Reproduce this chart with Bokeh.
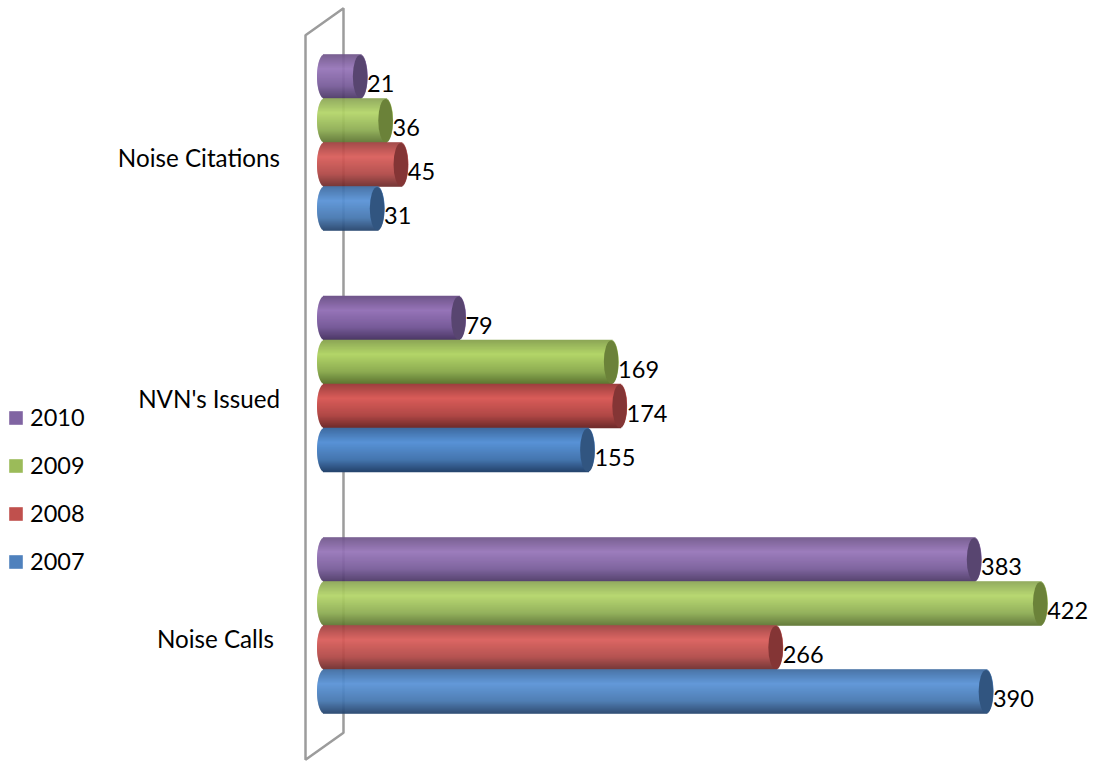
from bokeh.plotting import figure
from bokeh.models import ColumnDataSource, Legend, LegendItem, Range1d
from bokeh.core.properties import value
from bokeh.embed import file_html
from bokeh.resources import INLINE
import numpy as np

categories = ["Noise Calls", "NVN's Issued", "Noise Citations"]
series_names = ["2010", "2009", "2008", "2007"]
v2010 = [383, 79, 21]
v2009 = [422, 169, 36]
v2008 = [266, 174, 45]
v2007 = [390, 155, 31]
series_values = [v2010, v2009, v2008, v2007]

# top edge, highlight, lower, bottom edge of the cylinder shading
grad_2010 = ["#6f5589", "#9674b8", "#775b99", "#4b3865"]
grad_2009 = ["#8ba555", "#b3d568", "#8dac52", "#5d7532"]
grad_2008 = ["#9c3f3e", "#d95c59", "#b04846", "#6e2b2b"]
grad_2007 = ["#3d6a9f", "#5892d6", "#4576af", "#25446c"]
gradients = [grad_2010, grad_2009, grad_2008, grad_2007]
cap_colors = ["#584570", "#6b8239", "#843535", "#315580"]
legend_colors = ["#8064a2", "#9bbb59", "#c0504d", "#4f81bd"]

W, H = 1094, 762
PX_PER_UNIT = 1.696
PX_PER_CAT = 241.5
X0_PX, Y0_PX = 324.0, 625.0
BAR_H = 44 / PX_PER_CAT
RX = 7.5 / PX_PER_UNIT
N = 44

p = figure(width=W, height=H, output_backend="svg", toolbar_location=None,
           x_range=Range1d(-X0_PX / PX_PER_UNIT, (W - X0_PX) / PX_PER_UNIT),
           y_range=Range1d((Y0_PX - H) / PX_PER_CAT, Y0_PX / PX_PER_CAT),
           min_border=0, outline_line_color=None, background_fill_color="white")
p.axis.visible = False
p.grid.visible = False

# side wall
wall_dx = 11.2
wall_skew = 13.5 / PX_PER_CAT
p.patch(x=[-wall_dx, wall_dx, wall_dx, -wall_dx, -wall_dx],
        y=[2.5 - wall_skew, 2.5 + wall_skew, -0.5 + wall_skew, -0.5 - wall_skew, 2.5 - wall_skew],
        fill_color=None, line_color="#9c9c9c", line_width=2.5)

def shade(stops, f):
    pos = [0.0, 0.33, 0.72, 1.0]
    rgb = np.array([[int(c[i:i + 2], 16) for i in (1, 3, 5)] for c in stops], float)
    vals = [np.interp(f, pos, rgb[:, k]) for k in range(3)]
    return "#%02x%02x%02x" % tuple(int(round(a)) for a in vals)

offsets = [1.5, 0.5, -0.5, -1.5]
for values, stops, cap, off in zip(series_values, gradients, cap_colors, offsets):
    ys, lefts, rights, cols = [], [], [], []
    for ci, val in enumerate(values):
        yc = ci + off * BAR_H
        for k in range(N):
            f = (k + 0.5) / N
            t = 2 * f - 1
            e = RX * np.sqrt(1 - t * t)
            ys.append(yc + BAR_H / 2 - f * BAR_H)
            lefts.append(-e)
            rights.append(val + e)
            cols.append(shade(stops, f))
    p.hbar(y="y", left="l", right="r", height=1.5 / PX_PER_CAT, fill_color="c", line_color=None,
           source=ColumnDataSource(dict(y=ys, l=lefts, r=rights, c=cols)))
    ycaps = [ci + off * BAR_H for ci in range(3)]
    p.ellipse(x=values, y=ycaps, width=2 * RX * 0.97, height=BAR_H * 0.98, fill_color=cap, line_color=None)
    p.text(x=values, y=ycaps, text=[str(v) for v in values], x_offset=7, y_offset=7,
           text_font=value("Lato"), text_font_size="23.5px", text_color="black",
           text_align="left", text_baseline="middle")

# category labels
label_nudge_x = [-6, 0, 0]
label_nudge_y = [13, 14, 15]
p.text(x=[-44.5 / PX_PER_UNIT] * 3, y=[0, 1, 2], text=categories,
       x_offset=label_nudge_x, y_offset=label_nudge_y,
       text_font=value("Lato"), text_font_size="24.2px", text_color="black",
       text_align="right", text_baseline="middle")

items = []
for name, col, vals in zip(series_names, legend_colors, series_values):
    r = p.hbar(y=[-100], left=[0], right=[vals[0]], height=0.1, fill_color=col, line_color=None)
    items.append(LegendItem(label=name, renderers=[r]))
legend = Legend(items=items, location=(7, H - 575), orientation="vertical",
                glyph_width=17, glyph_height=17, label_text_font="Lato", label_text_font_size="23.5px",
                label_text_color="black",
                label_standoff=6, spacing=20, padding=0, margin=0, border_line_color=None,
                background_fill_color=None, background_fill_alpha=0)
p.add_layout(legend)

open("out.html", "w").write(file_html(p, INLINE))
